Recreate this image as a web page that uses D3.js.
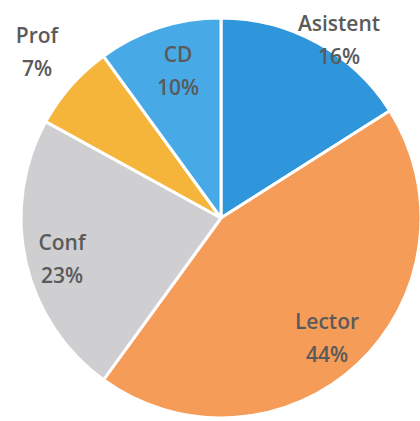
<!DOCTYPE html>
<html>
<head>
<meta charset="utf-8">
<script src="https://cdn.jsdelivr.net/npm/d3@7"></script>
<style>
  html, body { margin: 0; padding: 0; background: #ffffff; }
  svg { display: block; }
</style>
</head>
<body>
<svg id="chart" width="420" height="421"></svg>
<script>
// Data
const categories = ["Asistent", "Lector", "Conf", "Prof", "CD"];
const percents = [16, 44, 23, 7, 10];
const colors = ["#2f96dc", "#f59c58", "#cfcfd1", "#f4b53a", "#47a9e5"];
// Label anchor points (text layout only)
const labelX = [339, 327, 62, 37, 178];
const labelY = [31, 329, 250, 43, 62];

const svg = d3.select("#chart");
const cx = 221, cy = 218, r = 200;

const pie = d3.pie().sort(null).value(d => d)(percents);
const arc = d3.arc().innerRadius(0).outerRadius(r);

const g = svg.append("g").attr("transform", `translate(${cx},${cy})`);
g.selectAll("path")
  .data(pie)
  .join("path")
  .attr("d", arc)
  .attr("fill", (d, i) => colors[i])
  .attr("stroke", "#ffffff")
  .attr("stroke-width", 3)
  .attr("stroke-linejoin", "round");

const labels = svg.selectAll("text.lbl")
  .data(pie)
  .join("text")
  .attr("class", "lbl")
  .attr("text-anchor", "middle")
  .attr("font-family", "'Open Sans', 'Noto Sans', sans-serif")
  .attr("font-size", 21)
  .attr("font-weight", 600)
  .attr("fill", "#5a5a5a");

labels.append("tspan")
  .attr("x", (d, i) => labelX[i])
  .attr("y", (d, i) => labelY[i])
  .text((d, i) => categories[i]);
labels.append("tspan")
  .attr("x", (d, i) => labelX[i])
  .attr("y", (d, i) => labelY[i] + 33)
  .text(d => d.data + "%");
</script>
</body>
</html>
